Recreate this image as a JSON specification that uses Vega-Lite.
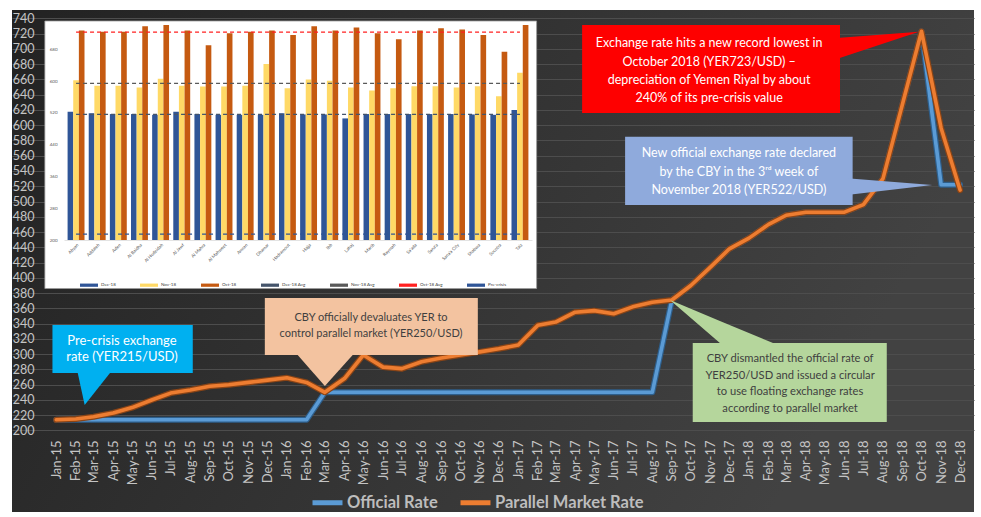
{
  "$schema": "https://vega.github.io/schema/vega-lite/v6.json",
  "width": 962,
  "height": 502,
  "autosize": {"type": "none"},
  "padding": {"left": 12, "top": 10, "right": 7, "bottom": 5},
  "background": "#ffffff",
  "config": {
    "font": "Lato",
    "view": {"fill": {"expr": "{gradient: 'linear', x1: 0, y1: 0, x2: 1, y2: 0.3, stops: [{offset: 0, color: '#222222'}, {offset: 0.5, color: '#323232'}, {offset: 1, color: '#424242'}]}"}, "stroke": null},
    "axis": {"title": null, "domain": false, "ticks": false}
  },
  "datasets": {
    "rates": [
      {"t": "2015-01-01", "Official Rate": 214, "Parallel Market Rate": 214},
      {"t": "2015-02-01", "Official Rate": 214, "Parallel Market Rate": 215},
      {"t": "2015-03-01", "Official Rate": 214, "Parallel Market Rate": 218},
      {"t": "2015-04-01", "Official Rate": 214, "Parallel Market Rate": 223},
      {"t": "2015-05-01", "Official Rate": 214, "Parallel Market Rate": 230},
      {"t": "2015-06-01", "Official Rate": 214, "Parallel Market Rate": 240},
      {"t": "2015-07-01", "Official Rate": 214, "Parallel Market Rate": 249},
      {"t": "2015-08-01", "Official Rate": 214, "Parallel Market Rate": 253},
      {"t": "2015-09-01", "Official Rate": 214, "Parallel Market Rate": 258},
      {"t": "2015-10-01", "Official Rate": 214, "Parallel Market Rate": 260},
      {"t": "2015-11-01", "Official Rate": 214, "Parallel Market Rate": 263},
      {"t": "2015-12-01", "Official Rate": 214, "Parallel Market Rate": 266},
      {"t": "2016-01-01", "Official Rate": 214, "Parallel Market Rate": 269},
      {"t": "2016-02-01", "Official Rate": 214, "Parallel Market Rate": 263},
      {"t": "2016-03-01", "Official Rate": 250, "Parallel Market Rate": 250},
      {"t": "2016-04-01", "Official Rate": 250, "Parallel Market Rate": 268},
      {"t": "2016-05-01", "Official Rate": 250, "Parallel Market Rate": 299},
      {"t": "2016-06-01", "Official Rate": 250, "Parallel Market Rate": 283},
      {"t": "2016-07-01", "Official Rate": 250, "Parallel Market Rate": 281},
      {"t": "2016-08-01", "Official Rate": 250, "Parallel Market Rate": 290},
      {"t": "2016-09-01", "Official Rate": 250, "Parallel Market Rate": 295},
      {"t": "2016-10-01", "Official Rate": 250, "Parallel Market Rate": 299},
      {"t": "2016-11-01", "Official Rate": 250, "Parallel Market Rate": 303},
      {"t": "2016-12-01", "Official Rate": 250, "Parallel Market Rate": 307},
      {"t": "2017-01-01", "Official Rate": 250, "Parallel Market Rate": 312},
      {"t": "2017-02-01", "Official Rate": 250, "Parallel Market Rate": 338},
      {"t": "2017-03-01", "Official Rate": 250, "Parallel Market Rate": 342},
      {"t": "2017-04-01", "Official Rate": 250, "Parallel Market Rate": 355},
      {"t": "2017-05-01", "Official Rate": 250, "Parallel Market Rate": 357},
      {"t": "2017-06-01", "Official Rate": 250, "Parallel Market Rate": 353},
      {"t": "2017-07-01", "Official Rate": 250, "Parallel Market Rate": 362},
      {"t": "2017-08-01", "Official Rate": 250, "Parallel Market Rate": 368},
      {"t": "2017-09-01", "Official Rate": 371, "Parallel Market Rate": 371},
      {"t": "2017-10-01", "Official Rate": 390, "Parallel Market Rate": 390},
      {"t": "2017-11-01", "Official Rate": 414, "Parallel Market Rate": 414},
      {"t": "2017-12-01", "Official Rate": 438, "Parallel Market Rate": 438},
      {"t": "2018-01-01", "Official Rate": 452, "Parallel Market Rate": 452},
      {"t": "2018-02-01", "Official Rate": 470, "Parallel Market Rate": 470},
      {"t": "2018-03-01", "Official Rate": 482, "Parallel Market Rate": 482},
      {"t": "2018-04-01", "Official Rate": 486, "Parallel Market Rate": 486},
      {"t": "2018-05-01", "Official Rate": 486, "Parallel Market Rate": 486},
      {"t": "2018-06-01", "Official Rate": 486, "Parallel Market Rate": 486},
      {"t": "2018-07-01", "Official Rate": 496, "Parallel Market Rate": 496},
      {"t": "2018-08-01", "Official Rate": 530, "Parallel Market Rate": 530},
      {"t": "2018-09-01", "Official Rate": 628, "Parallel Market Rate": 628},
      {"t": "2018-10-01", "Official Rate": 723, "Parallel Market Rate": 723},
      {"t": "2018-11-01", "Official Rate": 522, "Parallel Market Rate": 596},
      {"t": "2018-12-01", "Official Rate": 522, "Parallel Market Rate": 515}
    ],
    "insetbox": [{"t": "2014-12-14", "t2": "2017-01-30", "v": 386, "v2": 736.5}],
    "boxes": [
      {"id": "pre", "t": "2014-12-26", "t2": "2015-08-05", "v": 275.3, "v2": 338.2},
      {"id": "dev", "t": "2015-11-27", "t2": "2016-10-29", "v": 298.9, "v2": 373.6},
      {"id": "dis", "t": "2017-10-04", "t2": "2018-08-07", "v": 211.1, "v2": 314.6},
      {"id": "rec", "t": "2017-04-12", "t2": "2018-05-25", "v": 616.0, "v2": 731.2},
      {"id": "new", "t": "2017-06-19", "t2": "2018-06-14", "v": 495.4, "v2": 584.9}
    ],
    "pointers": [
      {"id": "pre", "t": "2015-02-04", "v": 275.3, "v2": 275.3},
      {"id": "pre", "t": "2015-02-15", "v": 233.4, "v2": 275.3},
      {"id": "pre", "t": "2015-03-27", "v": 275.3, "v2": 275.3},
      {"id": "dev", "t": "2016-01-18", "v": 298.9, "v2": 298.9},
      {"id": "dev", "t": "2016-03-01", "v": 258.3, "v2": 298.9},
      {"id": "dev", "t": "2016-04-14", "v": 298.9, "v2": 298.9},
      {"id": "dis", "t": "2017-08-29", "v": 371.0, "v2": 371.0},
      {"id": "dis", "t": "2017-11-16", "v": 314.6, "v2": 343.6},
      {"id": "dis", "t": "2018-02-08", "v": 314.6, "v2": 314.6},
      {"id": "rec", "t": "2018-05-15", "v": 685.4, "v2": 713.8},
      {"id": "rec", "t": "2018-09-27", "v": 722.5, "v2": 722.5},
      {"id": "new", "t": "2018-06-05", "v": 508.5, "v2": 530.4},
      {"id": "new", "t": "2018-10-18", "v": 521.6, "v2": 521.6}
    ],
    "notes": [
      {"id": "pre", "t": "2015-04-15", "v": 306.8, "label": "Pre-crisis exchange\nrate (YER215/USD)"},
      {"id": "dev", "t": "2016-05-13", "v": 336.9, "label": "CBY officially devaluates YER to\ncontrol parallel market (YER250/USD)"},
      {"id": "dis", "t": "2018-03-07", "v": 260.9, "label": "CBY dismantled the official rate of\nYER250/USD and issued a circular\nto use floating exchange rates\naccording to parallel market"},
      {"id": "rec", "t": "2017-10-30", "v": 671.2, "label": "Exchange rate hits a new record lowest in\nOctober 2018 (YER723/USD) –\ndepreciation of Yemen Riyal by about\n240% of its pre-crisis value"},
      {"id": "new", "t": "2017-12-16", "v": 539.1, "label": "New official exchange rate declared\nby the CBY in the 3ʳᵈ week of\nNovember 2018 (YER522/USD)"}
    ],
    "gov": [
      {"g": "Abyan", "Dec-18": 523, "Nov-18": 602, "Oct-18": 727},
      {"g": "Addaleh", "Dec-18": 519, "Nov-18": 588, "Oct-18": 724},
      {"g": "Aden", "Dec-18": 517, "Nov-18": 588, "Oct-18": 724},
      {"g": "Al Baidha", "Dec-18": 517, "Nov-18": 584, "Oct-18": 738},
      {"g": "Al Hodeidah", "Dec-18": 515, "Nov-18": 606, "Oct-18": 741},
      {"g": "Al Jawf", "Dec-18": 523, "Nov-18": 588, "Oct-18": 727},
      {"g": "Al Mahra", "Dec-18": 517, "Nov-18": 586, "Oct-18": 690},
      {"g": "Al Mahweet", "Dec-18": 515, "Nov-18": 586, "Oct-18": 720},
      {"g": "Amran", "Dec-18": 515, "Nov-18": 588, "Oct-18": 724},
      {"g": "Dhamar", "Dec-18": 515, "Nov-18": 643, "Oct-18": 727},
      {"g": "Hadramout", "Dec-18": 519, "Nov-18": 582, "Oct-18": 716},
      {"g": "Hajja", "Dec-18": 516, "Nov-18": 604, "Oct-18": 738},
      {"g": "Ibb", "Dec-18": 516, "Nov-18": 601, "Oct-18": 727},
      {"g": "Lahaj", "Dec-18": 506, "Nov-18": 584, "Oct-18": 735},
      {"g": "Marib", "Dec-18": 517, "Nov-18": 576, "Oct-18": 720},
      {"g": "Raymah", "Dec-18": 517, "Nov-18": 582, "Oct-18": 705},
      {"g": "Sa'ada", "Dec-18": 517, "Nov-18": 587, "Oct-18": 727},
      {"g": "Sana'a", "Dec-18": 517, "Nov-18": 587, "Oct-18": 733},
      {"g": "Sana'a City", "Dec-18": 517, "Nov-18": 584, "Oct-18": 730},
      {"g": "Shabwa", "Dec-18": 516, "Nov-18": 587, "Oct-18": 716},
      {"g": "Socotra", "Dec-18": 515, "Nov-18": 562, "Oct-18": 674},
      {"g": "Taiz", "Dec-18": 527, "Nov-18": 621, "Oct-18": 741}
    ],
    "avgs": [
      {"series": "Dec-18 Avg", "v": 516},
      {"series": "Nov-18 Avg", "v": 594},
      {"series": "Oct-18 Avg", "v": 723},
      {"series": "Pre-crisis", "v": 215}
    ]
  },
  "layer": [
    {
      "encoding": {
        "x": {
          "field": "t",
          "type": "temporal",
          "scale": {"type": "utc", "domain": [{"year": 2014, "month": 10, "date": 23, "utc": true}, {"year": 2018, "month": 12, "date": 23, "utc": true}]},
          "axis": {
            "orient": "bottom",
            "offset": -80,
            "tickCount": {"interval": "month", "step": 1},
            "labelExpr": "datum.value < 1420070400000 ? '' : utcFormat(datum.value, '%b-%y')",
            "labelAngle": 270,
            "labelFontSize": 13,
            "labelColor": "#c4c4c4",
            "labelPadding": 8,
            "labelOverlap": false,
            "labelBound": false,
            "labelFlush": false,
            "grid": false
          }
        },
        "y": {
          "field": "v",
          "type": "quantitative",
          "scale": {"domain": [93.2, 750.9], "nice": false, "zero": false},
          "axis": {
            "orient": "left",
            "offset": -24,
            "values": [200, 220, 240, 260, 280, 300, 320, 340, 360, 380, 400, 420, 440, 460, 480, 500, 520, 540, 560, 580, 600, 620, 640, 660, 680, 700, 720, 740],
            "labelFontSize": 12.5,
            "labelColor": "#c4c4c4",
            "labelPadding": 2,
            "grid": true,
            "gridColor": "#4d4d4d",
            "gridWidth": 1
          }
        }
      },
      "layer": [
        {
          "data": {"name": "insetbox"},
          "mark": {"type": "rect", "fill": "#ffffff", "stroke": "#9a9a9a", "strokeWidth": 0.8},
          "encoding": {"x2": {"field": "t2"}, "y2": {"field": "v2"}}
        },
        {
          "data": {"name": "rates"},
          "transform": [{"fold": ["Official Rate", "Parallel Market Rate"], "as": ["series", "v"]}, {"filter": "datum.series === 'Official Rate'"}],
          "mark": {"type": "line", "stroke": "#2e5f8c", "strokeWidth": 6, "strokeJoin": "round", "strokeCap": "round"},
          "encoding": {}
        },
        {
          "data": {"name": "rates"},
          "transform": [{"fold": ["Official Rate", "Parallel Market Rate"], "as": ["series", "v"]}, {"filter": "datum.series === 'Official Rate'"}],
          "mark": {"type": "line", "strokeWidth": 3.6, "strokeJoin": "round", "strokeCap": "round"},
          "encoding": {
            "color": {
              "field": "series", "type": "nominal",
              "scale": {"domain": ["Official Rate", "Parallel Market Rate"], "range": ["#5b9bd5", "#ed7d31"]},
              "legend": {"orient": "none", "legendX": 298, "legendY": 475, "direction": "horizontal", "title": null, "symbolType": "stroke", "symbolSize": 900, "symbolStrokeWidth": 5, "labelFontSize": 16.5, "labelFontWeight": "bold", "labelColor": "#bdbdbd", "columnPadding": 12, "labelOffset": 2}
            }
          }
        },
        {
          "data": {"name": "rates"},
          "transform": [{"fold": ["Official Rate", "Parallel Market Rate"], "as": ["series", "v"]}, {"filter": "datum.series === 'Parallel Market Rate'"}],
          "mark": {"type": "line", "stroke": "#8a4416", "strokeWidth": 6, "strokeJoin": "round", "strokeCap": "round"},
          "encoding": {}
        },
        {
          "data": {"name": "rates"},
          "transform": [{"fold": ["Official Rate", "Parallel Market Rate"], "as": ["series", "v"]}, {"filter": "datum.series === 'Parallel Market Rate'"}],
          "mark": {"type": "line", "strokeWidth": 3.6, "strokeJoin": "round", "strokeCap": "round"},
          "encoding": {
            "color": {
              "field": "series", "type": "nominal",
              "scale": {"domain": ["Official Rate", "Parallel Market Rate"], "range": ["#5b9bd5", "#ed7d31"]},
              "legend": {"orient": "none", "legendX": 298, "legendY": 475, "direction": "horizontal", "title": null, "symbolType": "stroke", "symbolSize": 900, "symbolStrokeWidth": 5, "labelFontSize": 16.5, "labelFontWeight": "bold", "labelColor": "#bdbdbd", "columnPadding": 12, "labelOffset": 2}
            }
          }
        },
        {
          "data": {"name": "boxes"},
          "mark": {"type": "rect", "strokeWidth": 0},
          "encoding": {
            "x2": {"field": "t2"},
            "y2": {"field": "v2"},
            "fill": {"field": "id", "type": "nominal", "scale": {"domain": ["pre", "dev", "dis", "rec", "new"], "range": ["#00b0f0", "#f3c3a0", "#b5d69c", "#fe0000", "#8faadc"]}, "legend": null}
          }
        },
        {
          "data": {"name": "pointers"},
          "mark": {"type": "area", "interpolate": "linear"},
          "encoding": {
            "y2": {"field": "v2"},
            "detail": {"field": "id"},
            "fill": {"field": "id", "type": "nominal", "scale": {"domain": ["pre", "dev", "dis", "rec", "new"], "range": ["#00b0f0", "#f3c3a0", "#b5d69c", "#fe0000", "#8faadc"]}, "legend": null}
          }
        },
        {
          "data": {"name": "notes"},
          "transform": [{"filter": "datum.id === 'pre'"}],
          "mark": {"type": "text", "lineBreak": "\n", "fontSize": 13, "lineHeight": 16.7, "dy": -8.35, "color": "#ffffff", "align": "center", "baseline": "middle"},
          "encoding": {"text": {"field": "label"}}
        },
        {
          "data": {"name": "notes"},
          "transform": [{"filter": "datum.id === 'dev'"}],
          "mark": {"type": "text", "lineBreak": "\n", "fontSize": 11, "lineHeight": 16.7, "dy": -8.35, "color": "#3f3f3f", "align": "center", "baseline": "middle"},
          "encoding": {"text": {"field": "label"}}
        },
        {
          "data": {"name": "notes"},
          "transform": [{"filter": "datum.id === 'dis'"}],
          "mark": {"type": "text", "lineBreak": "\n", "fontSize": 11.2, "lineHeight": 16.9, "dy": -25.35, "color": "#3f3f3f", "align": "center", "baseline": "middle"},
          "encoding": {"text": {"field": "label"}}
        },
        {
          "data": {"name": "notes"},
          "transform": [{"filter": "datum.id === 'rec'"}],
          "mark": {"type": "text", "lineBreak": "\n", "fontSize": 12.5, "lineHeight": 18.3, "dy": -27.45, "color": "#ffffff", "align": "center", "baseline": "middle"},
          "encoding": {"text": {"field": "label"}}
        },
        {
          "data": {"name": "notes"},
          "transform": [{"filter": "datum.id === 'new'"}],
          "mark": {"type": "text", "lineBreak": "\n", "fontSize": 12.5, "lineHeight": 18.3, "dy": -18.3, "color": "#ffffff", "align": "center", "baseline": "middle"},
          "encoding": {"text": {"field": "label"}}
        }
      ]
    },
    {
      "layer": [
        {
          "data": {"name": "gov"},
          "transform": [{"fold": ["Dec-18", "Nov-18", "Oct-18"], "as": ["series", "v"]}],
          "mark": {"type": "bar"},
          "encoding": {
            "x": {
              "field": "g", "type": "nominal",
              "scale": {"domain": ["Abyan", "Addaleh", "Aden", "Al Baidha", "Al Hodeidah", "Al Jawf", "Al Mahra", "Al Mahweet", "Amran", "Dhamar", "Hadramout", "Hajja", "Ibb", "Lahaj", "Marib", "Raymah", "Sa'ada", "Sana'a", "Sana'a City", "Shabwa", "Socotra", "Taiz"], "range": [52, 520], "paddingInner": 0.2, "paddingOuter": 0.17},
              "axis": {"orient": "bottom", "offset": -272, "zindex": 1, "labelAngle": -45, "labelFontSize": 4.5, "labelColor": "#595959", "labelPadding": 2, "domain": true, "domainColor": "#d0d0d0", "domainWidth": 0.6, "grid": false}
            },
            "xOffset": {"field": "series", "type": "nominal", "sort": ["Dec-18", "Nov-18", "Oct-18"], "scale": {"paddingInner": 0}},
            "y": {
              "field": "v", "type": "quantitative",
              "scale": {"domain": [-484.4, 778.8], "nice": false, "zero": false},
              "axis": {"orient": "left", "offset": -47, "zindex": 1, "values": [200, 220, 240, 260, 280, 300, 320, 340, 360, 380, 400, 420, 440, 460, 480, 500, 520, 540, 560, 580, 600, 620, 640, 660, 680, 700, 720, 740], "labelFontSize": 4.5, "labelColor": "#595959", "labelPadding": 2, "grid": false}
            },
            "y2": {"datum": 200},
            "color": {
              "field": "series", "type": "nominal",
              "scale": {"domain": ["Dec-18", "Nov-18", "Oct-18", "Dec-18 Avg", "Nov-18 Avg", "Oct-18 Avg", "Pre-crisis"], "range": ["#2f5597", "#ffd966", "#c55a11", "#44546a", "#595959", "#ff2020", "#2f5597"]},
              "legend": {
                "orient": "none", "legendX": 68, "legendY": 266, "zindex": 1, "direction": "horizontal", "title": null,
                "symbolType": "M-1,-0.18H1V0.18H-1Z", "symbolSize": 324, "symbolStrokeWidth": 0, "labelFontSize": 4.5, "labelColor": "#404040", "columnPadding": 24, "labelOffset": 3
              }
            }
          }
        },
        {
          "data": {"name": "avgs"},
          "mark": {"type": "rule", "strokeDash": [4, 3], "strokeWidth": 1.3},
          "encoding": {
            "x": {"datum": "Abyan", "type": "nominal", "bandPosition": 0.5},
            "x2": {"datum": "Taiz", "bandPosition": 0.5},
            "y": {"field": "v", "type": "quantitative"},
            "color": {"field": "series", "type": "nominal"}
          }
        }
      ]
    }
  ],
  "resolve": {
    "scale": {"x": "independent", "y": "independent", "color": "independent"},
    "axis": {"x": "independent", "y": "independent"},
    "legend": {"color": "independent"}
  }
}
